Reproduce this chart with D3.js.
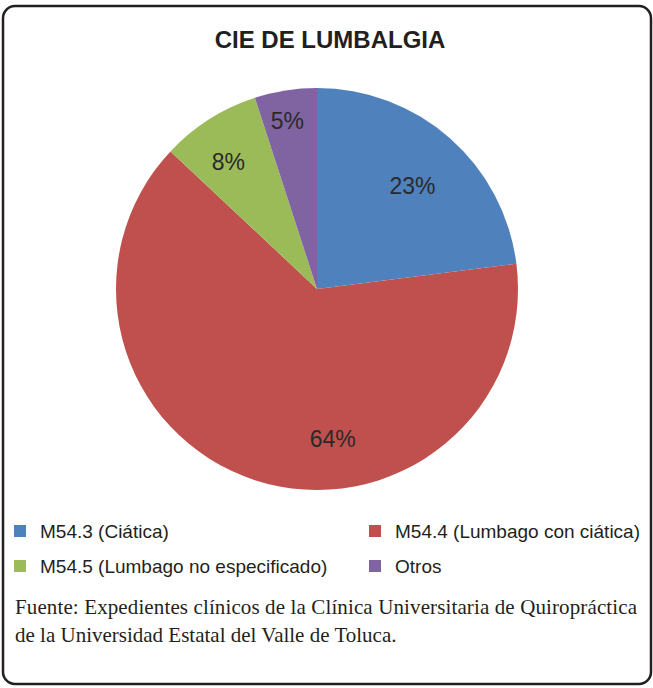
<!DOCTYPE html>
<meta charset="utf-8">
<head>
<style>
  body { margin: 0; background: #fff; }
  svg { display: block; }
</style>
</head>
<body>
    <!-- Load d3.js -->
    <script src="https://d3js.org/d3.v7.min.js"></script>

    <!-- Create a div where the graph will take place -->
    <div id="my_dataviz"></div>
</body>

<script>
    // data
    const categories = ["M54.3 (Ciática)", "M54.4 (Lumbago con ciática)", "M54.5 (Lumbago no especificado)", "Otros"];
    const values = [23, 64, 8, 5];
    const title = "CIE DE LUMBALGIA";
    const source = [
      "Fuente: Expedientes clínicos de la Clínica Universitaria de Quiropráctica",
      "de la Universidad Estatal del Valle de Toluca."
    ];

    const width = 653, height = 688;
    const cx = 317, cy = 289, radius = 201;

    const svg = d3.select("#my_dataviz")
      .append("svg")
        .attr("width", width)
        .attr("height", height);

    // frame
    svg.append("rect")
      .attr("x", 3).attr("y", 6)
      .attr("width", 648).attr("height", 678)
      .attr("rx", 12).attr("ry", 12)
      .attr("fill", "#fff")
      .attr("stroke", "#231f20")
      .attr("stroke-width", 2.5);

    svg.append("text")
      .attr("x", 330)
      .attr("y", 48)
      .attr("text-anchor", "middle")
      .style("font-family", "'Liberation Sans', Arial, sans-serif")
      .style("font-weight", "bold")
      .style("font-size", "24px")
      .style("fill", "#231f20")
      .text(title);

    // color scale: give me a category, I return a color
    const color = d3.scaleOrdinal()
      .domain(categories)
      .range(["#4f81bd", "#c0504d", "#9bbb59", "#8064a2"]);

    const pie = d3.pie().sort(null).value(d => d.value);
    const arcs = pie(categories.map((c, i) => ({name: c, value: values[i]})));
    const arc = d3.arc().innerRadius(0).outerRadius(radius);

    const g = svg.append("g")
      .attr("transform", `translate(${cx}, ${cy})`);

    g.selectAll("path")
      .data(arcs)
      .join("path")
        .attr("d", arc)
        .attr("fill", d => color(d.data.name));

    // label placement, nudged like the original (degrees, fraction of radius)
    const labelTweak = [{shift: 1.3, k: 0.70}, {shift: -24, k: 0.75}, {shift: -2.5, k: 0.77}, {shift: -1, k: 0.85}];
    const total = d3.sum(values);

    g.selectAll("text.pct")
      .data(arcs)
      .join("text")
        .attr("class", "pct")
        .attr("transform", (d, i) => {
          const a = (d.startAngle + d.endAngle) / 2 + labelTweak[i].shift * Math.PI / 180;
          const r = radius * labelTweak[i].k;
          return `translate(${r * Math.sin(a)}, ${-r * Math.cos(a)})`;
        })
        .attr("text-anchor", "middle")
        .attr("dy", "0.36em")
        .style("font-family", "'Liberation Sans', Arial, sans-serif")
        .style("font-size", "23px")
        .style("fill", "#2a2a2a")
        .text(d => Math.round(d.value / total * 100) + "%");

    // legend, two columns
    const legendCols = [14, 369], legendRows = [531, 566];
    const legend = svg.append("g")
      .selectAll("g")
      .data(categories)
      .join("g")
        .attr("transform", (d, i) => `translate(${legendCols[i % 2]}, ${legendRows[Math.floor(i / 2)]})`);

    legend.append("rect")
      .attr("x", 0).attr("y", -6)
      .attr("width", 12).attr("height", 12)
      .attr("fill", d => color(d));

    legend.append("text")
      .attr("x", 26)
      .attr("dy", "0.36em")
      .style("font-family", "'Liberation Sans', Arial, sans-serif")
      .style("font-size", "19px")
      .style("fill", "#231f20")
      .text(d => d);

    // source note
    svg.append("text")
      .attr("x", 15).attr("y", 614)
      .attr("textLength", 622)
      .attr("lengthAdjust", "spacing")
      .style("font-family", "'Liberation Serif', 'Times New Roman', serif")
      .style("font-size", "21px")
      .style("fill", "#231f20")
      .text(source[0]);

    svg.append("text")
      .attr("x", 15).attr("y", 642)
      .style("font-family", "'Liberation Serif', 'Times New Roman', serif")
      .style("font-size", "21px")
      .style("fill", "#231f20")
      .text(source[1]);
</script>
